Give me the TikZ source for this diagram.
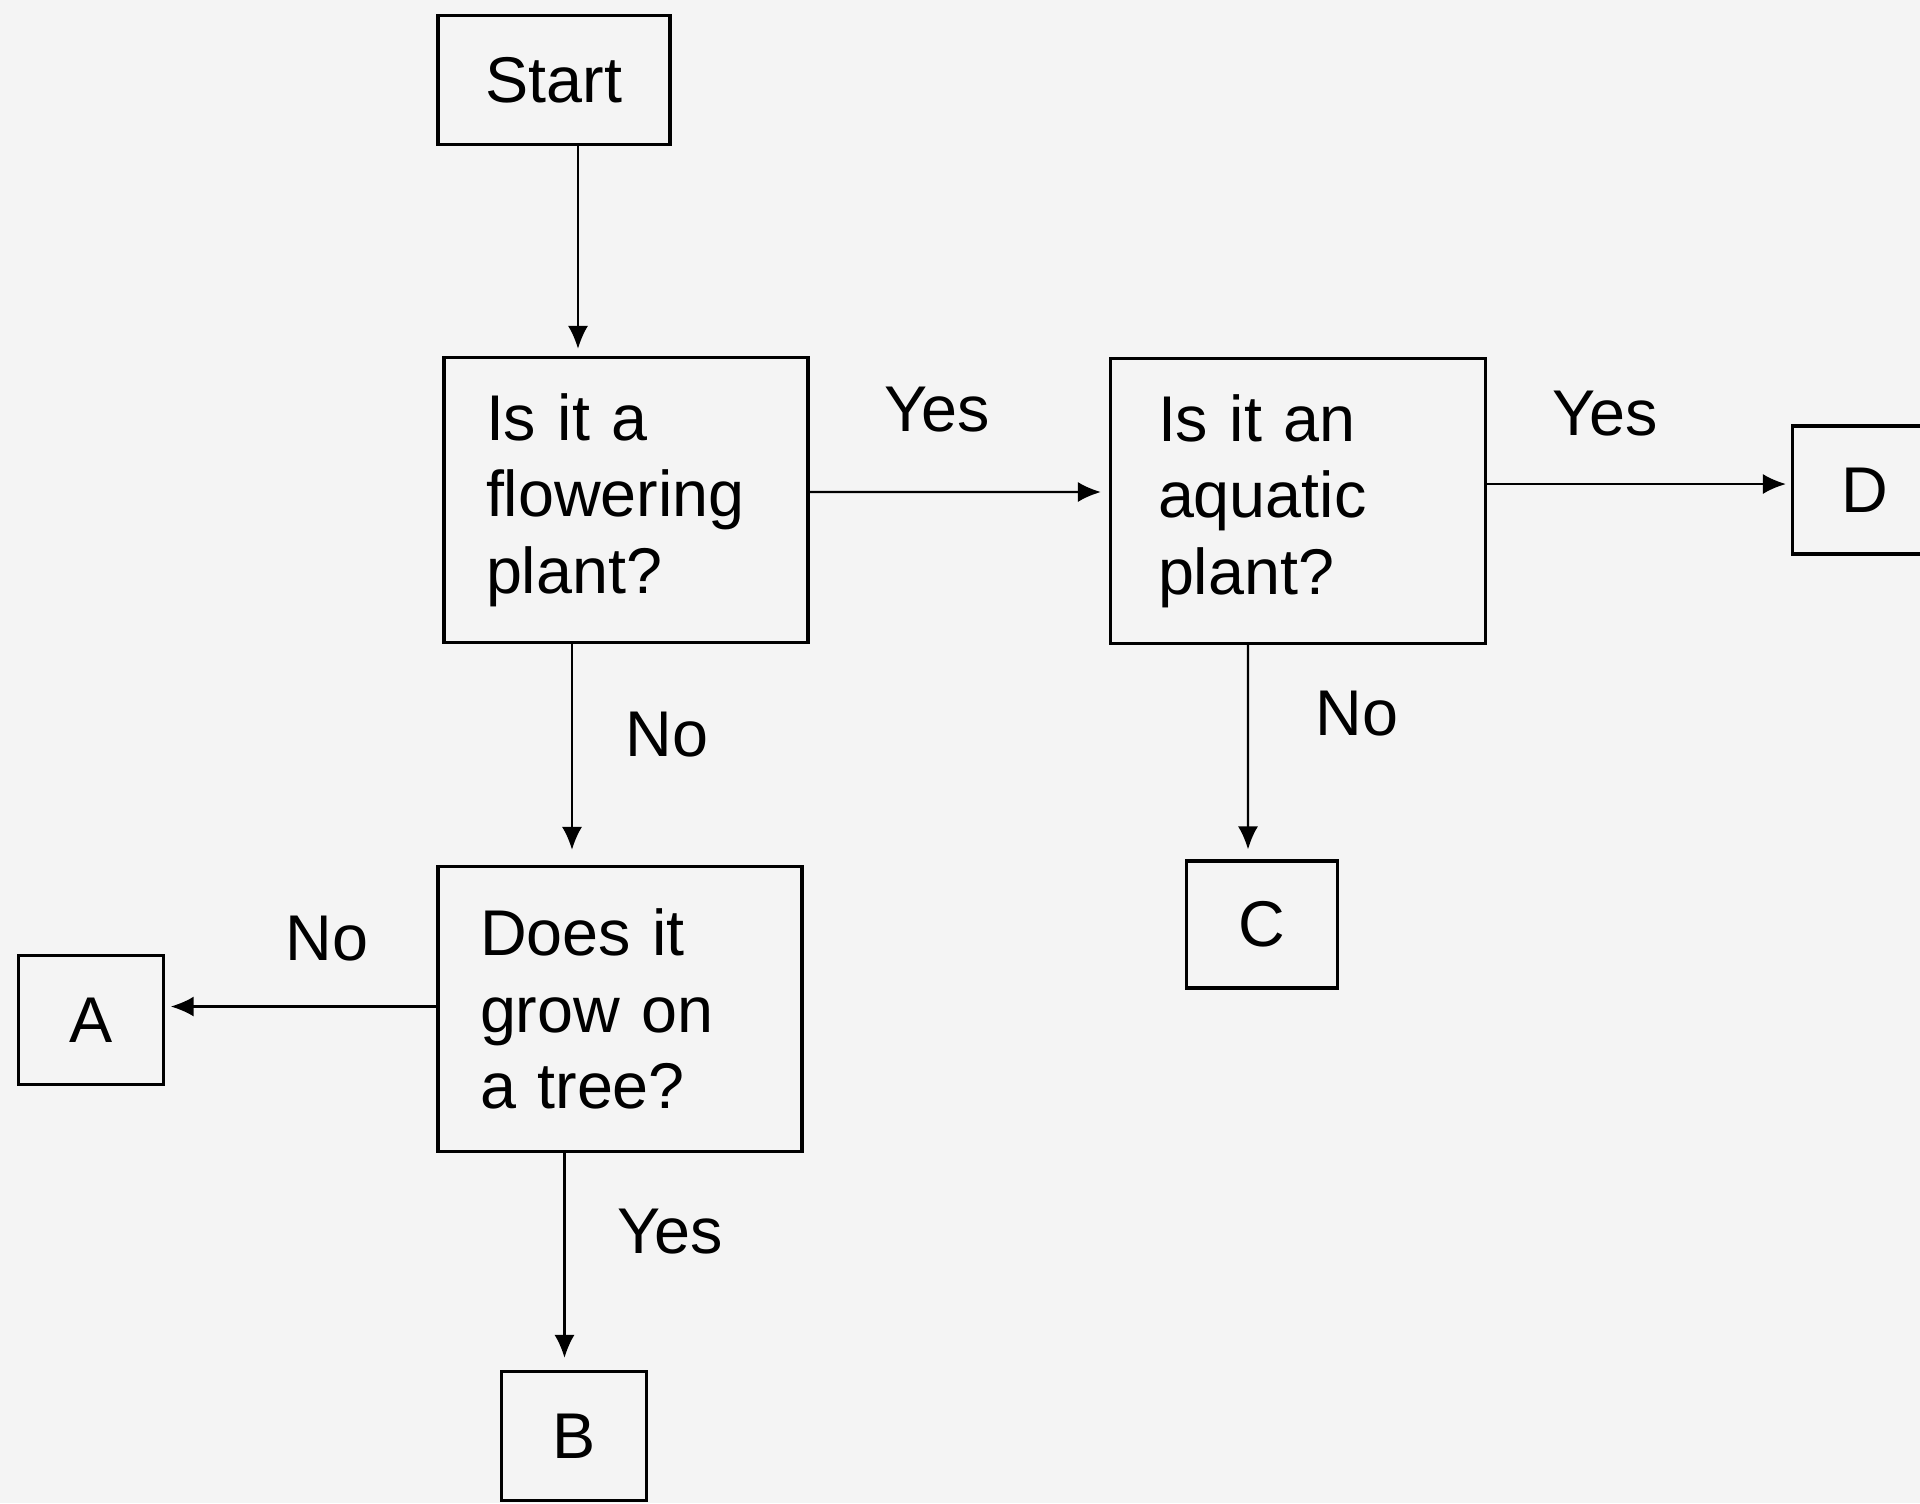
\documentclass[tikz,border=0pt]{standalone}
\usepackage{fontspec}
\setmainfont{Liberation Sans}
\usepackage{tikz}
\usetikzlibrary{arrows.meta}
\definecolor{paper}{HTML}{F4F4F4}
\tikzset{
  answer/.style={
    shape=rectangle,
    draw,
    line width=0.9pt,
    minimum width=1.45cm,
    minimum height=1.29cm,
  },
  question/.style={
    draw, rectangle, line width=0.9pt,
    minimum height=2.85cm, minimum width=3.64cm,
    text width=2.8cm, inner xsep=0.42cm, align=left
  },
  link/.style={
    line width=0.65pt, -{Latex[length=0.23cm,width=0.2cm]}
  }
}

\begin{document}
\begin{tikzpicture}[font=\fontsize{18.4}{21.8}\selectfont]
\useasboundingbox (0,0) rectangle (19.2,-15.03);
\fill[paper] (0,0) rectangle (19.2,-15.03);

% Boxes
\node[answer, minimum width=2.32cm] (start) at (5.54,-0.80) {Start};
\node[question] (flower) at (6.26,-5.00) {Is it a\\ flowering\\ plant?};
\node[question, minimum width=3.75cm] (aquatic) at (12.98,-5.01) {Is it an\\ aquatic\\ plant?};
\node[question] (tree) at (6.20,-10.09) {Does it\\ grow on\\ a tree?};
\node[answer] (A) at (0.906,-10.20) {A};
\node[answer] (B) at (5.74,-14.36) {B};
\node[answer, minimum width=1.51cm, minimum height=1.27cm] (C) at (12.62,-9.245) {C};
\node[answer, minimum height=1.28cm] (D) at (18.65,-4.90) {D};

% Arrows
\draw[link, shorten >=0.07cm] ([xshift=0.24cm]start.south) -- ([xshift=-0.48cm]flower.north);
\draw[link, shorten >=0.08cm] ([yshift=0.08cm]flower.east) -- ([yshift=0.09cm]aquatic.west);
\draw[link, shorten >=0.05cm] ([yshift=0.17cm]aquatic.east) -- ([yshift=0.06cm]D.west);
\draw[link, shorten >=0.15cm] ([xshift=-0.54cm]flower.south) -- ([xshift=-0.48cm]tree.north);
\draw[link, shorten >=0.1cm] ([xshift=-0.50cm]aquatic.south) -- ([xshift=-0.14cm]C.north);
\draw[link, shorten >=0.06cm] ([yshift=0.025cm]tree.west) -- ([yshift=0.135cm]A.east);
\draw[link, shorten >=0.12cm] ([xshift=-0.555cm]tree.south) -- ([xshift=-0.095cm]B.north);

% Labels
\node (yes1) at (9.37,-4.10) {Yes};
\node (yes2) at (16.05,-4.14) {Yes};
\node (yes3) at (6.70,-12.32) {Yes};
\node (no1) at (6.67,-7.35) {No};
\node (no2) at (13.57,-7.14) {No};
\node (no3) at (3.27,-9.39) {No};

\end{tikzpicture}
\end{document}
